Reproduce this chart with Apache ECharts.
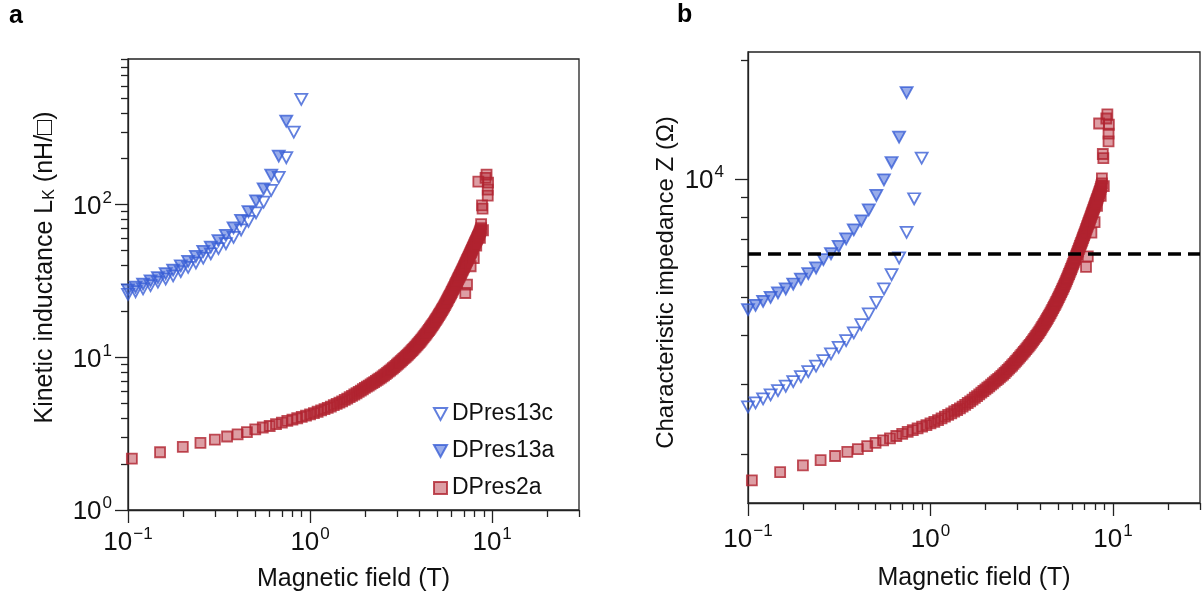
<!DOCTYPE html>
<html><head><meta charset="utf-8">
<script src="https://cdn.jsdelivr.net/npm/echarts@6/dist/echarts.min.js"></script>
<style>html,body{margin:0;padding:0;background:#fff}#c{width:1204px;height:597px}</style>
</head><body><div id="c"></div>
<script>
// ---------------- data ----------------
const field13c = [0.1,0.11,0.121,0.133,0.146,0.161,0.177,0.195,0.214,0.236,0.259,0.285,0.314,0.345,0.380,0.418,0.459,0.505,0.556,0.612,0.673,0.740,0.814,0.895];
const lk13c = [25.9,26.9,28.1,29.5,31.1,32.6,34.2,36.5,38.8,41.5,44.7,47.7,51.5,55.5,61.1,68.3,77.8,88.3,104,124,151,203,299,490];
const z13c = [2634,2696,2760,2825,2897,2971,3053,3144,3237,3340,3452,3589,3730,3880,4060,4261,4535,4853,5248,5705,6292,7307,8898,11286];

const field13a = [0.1,0.11,0.121,0.133,0.146,0.161,0.177,0.195,0.214,0.236,0.259,0.285,0.314,0.345,0.380,0.418,0.459,0.505,0.556,0.612,0.673,0.740];
const lk13a = [27.7,28.8,30.2,31.7,33.3,35.3,37.3,39.8,42.5,45.8,49.4,52.8,58.1,63.0,70.4,79.0,90.1,106,127,156,208,353];
const z13a = [4650,4768,4881,4996,5128,5248,5403,5563,5740,5934,6230,6450,6730,7040,7420,7820,8340,9070,9940,11000,12760,16560];

const field2a = [0.105,0.15,0.2,0.25,0.3,0.35,0.4,0.45,0.5,0.55,0.6,0.65,0.7,0.75,0.8,0.85,0.9,0.95,1.0,
1.05,1.1,1.15,1.2,1.25,1.3,1.35,1.4,1.45,1.5,1.55,1.6,1.65,1.7,1.75,1.8,1.85,1.9,1.95,2.0,
2.05,2.1,2.15,2.2,2.25,2.3,2.35,2.4,2.45,2.5,2.55,2.6,2.65,2.7,2.75,2.8,2.85,2.9,2.95,3.0,
3.05,3.1,3.15,3.2,3.25,3.3,3.35,3.4,3.45,3.5,3.55,3.6,3.65,3.7,3.75,3.8,3.85,3.9,3.95,4.0,
4.05,4.1,4.15,4.2,4.25,4.3,4.35,4.4,4.45,4.5,4.55,4.6,4.65,4.7,4.75,4.8,4.85,4.9,4.95,5.0,
5.05,5.1,5.15,5.2,5.25,5.3,5.35,5.4,5.45,5.5,5.55,5.6,5.65,5.7,5.75,5.8,5.85,5.9,5.95,6.0,
6.05,6.1,6.15,6.2,6.25,6.3,6.35,6.4,6.45,6.5,6.55,6.6,6.65,6.7,6.75,6.8,6.85,6.9,6.95,7.0,
7.05,7.1,7.15,7.2,7.25,7.3,7.35,7.4,7.45,7.5,7.55,7.6,7.65,7.7,7.75,7.8,7.85,7.9,7.95,8.0,
8.05,8.1,8.15,8.2,8.25,8.3,8.35,8.4,8.45,8.5,8.55,8.6,8.65,8.7,
7.12,7.28,7.62,7.93,8.18,8.57,8.91,8.70,8.86,8.80,8.40,9.46,9.46,9.50,9.20,9.32];
const lk2a = [2.17,2.39,2.59,2.75,2.89,3.03,3.13,3.24,3.37,3.47,3.55,3.65,3.74,3.83,3.91,3.99,4.07,4.15,4.23,
4.31,4.40,4.49,4.58,4.67,4.76,4.86,4.95,5.05,5.15,5.26,5.37,5.48,5.59,5.71,5.82,5.94,6.06,6.18,6.30,
6.42,6.53,6.65,6.77,6.89,7.01,7.13,7.25,7.37,7.50,7.63,7.77,7.91,8.05,8.19,8.33,8.48,8.63,8.79,8.95,
9.11,9.27,9.43,9.59,9.76,9.92,10.09,10.26,10.43,10.60,10.79,10.98,11.17,11.37,11.57,11.77,11.97,12.18,12.39,12.60,
12.84,13.08,13.32,13.56,13.81,14.06,14.31,14.57,14.83,15.10,15.39,15.68,15.98,16.28,16.58,16.89,17.21,17.53,17.86,18.20,
18.55,18.91,19.27,19.64,20.01,20.39,20.78,21.18,21.58,22.00,22.45,22.90,23.36,23.83,24.30,24.78,25.27,25.77,26.28,26.80,
27.34,27.88,28.43,28.98,29.54,30.11,30.69,31.28,31.88,32.50,33.11,33.73,34.36,35.00,35.64,36.29,36.95,37.62,38.30,39.00,
39.72,40.45,41.18,41.92,42.66,43.41,44.17,44.94,45.71,46.50,47.31,48.13,48.96,49.79,50.63,51.47,52.32,53.18,54.08,55.00,
55.9,56.8,57.7,58.6,59.5,60.5,61.5,62.5,63.5,64.5,65.8,67.2,68.6,70.2,
26.4,29.9,39.5,44.6,54.0,60.6,68.0,74.5,94.3,99.0,141.5,114.8,125.5,139.5,150.0,157.5];
const z2a = [1712,1796,1870,1927,1975,2023,2056,2092,2133,2165,2189,2220,2247,2274,2298,2321,2344,2367,2390,
2412,2437,2462,2487,2511,2535,2562,2585,2611,2637,2665,2693,2720,2747,2777,2803,2832,2860,2889,2917,
2944,2969,2997,3023,3050,3077,3103,3129,3155,3182,3210,3239,3268,3297,3325,3354,3384,3414,3445,3476,
3507,3538,3568,3598,3630,3660,3691,3722,3753,3783,3817,3850,3884,3918,3953,3986,4020,4055,4090,4125,
4164,4202,4241,4279,4318,4357,4396,4435,4475,4515,4559,4601,4645,4689,4732,4775,4821,4865,4911,4957,
5005,5053,5101,5150,5198,5247,5297,5348,5398,5450,5506,5561,5616,5672,5728,5784,5841,5899,5957,6016,
6076,6136,6196,6255,6316,6376,6437,6499,6561,6624,6686,6749,6811,6874,6937,7000,7063,7127,7191,7257,
7323,7390,7457,7523,7590,7656,7723,7790,7856,7924,7992,8061,8131,8199,8268,8337,8405,8474,8545,8618,
8688,8758,8827,8895,8963,9038,9113,9186,9260,9332,9426,9526,9624,9736,
5970,6353,7300,7760,8540,9050,9580,10030,11290,11560,13820,12450,13020,13720,14230,14580];

const resistanceQuantum = 6453; // dashed line, ohm

// axis ranges and ticks (real values)
const xRange = [0.1, 30];
const yRangeA = [1, 900];
const yRangeB = [1500, 21000];
const xMajorTicks = [0.1, 1, 10];
const xMajorLabels = ['\u22121', '0', '1'];
const xMinorTicks = [0.2,0.3,0.4,0.5,0.6,0.7,0.8,0.9,2,3,4,5,6,7,8,9,20,30];
const yMajorTicksA = [1, 10, 100];
const yMajorLabelsA = ['0', '1', '2'];
const yMinorTicksA = [2,3,4,5,6,7,8,9,20,30,40,50,60,70,80,90,200,300,400,500,600,700,800,900];
const yMajorTicksB = [10000];
const yMajorLabelsB = ['4'];
const yMinorTicksB = [2000,3000,4000,5000,6000,7000,8000,9000,20000];

const seriesNames = ['DPres13c', 'DPres13a', 'DPres2a'];

// ---------------- chart ----------------
const FONT = '"Liberation Sans", Arial, sans-serif';
const L = Math.log10;
const BLUE = '#3a5fd6', RED = '#b0232f';
const AXC = '#222';
const DOWN_TRI = 'path://M0,0L12,0L6,11Z';

function pts(xs, ys) { return xs.map((x, i) => [L(x), L(ys[i])]); }

function labelMap(ticks, labels) {
  const m = {};
  ticks.forEach((t, i) => { m[Math.round(L(t))] = labels[i]; });
  return m;
}
const richLab = {
  b: { fontSize: 26, fontFamily: FONT, color: '#111', lineHeight: 30, verticalAlign: 'bottom' },
  s: { fontSize: 17, fontFamily: FONT, color: '#111', verticalAlign: 'top', padding: [0, 0, 0, 1] }
};

function xAxes(grid, margin, nameGap) {
  const lm = labelMap(xMajorTicks, xMajorLabels);
  const common = { type: 'value', gridIndex: grid, min: L(xRange[0]), max: L(xRange[1]), splitLine: { show: false }, position: 'bottom' };
  return [
    Object.assign({}, common, {
      axisLine: { show: true, onZero: false, lineStyle: { color: AXC, width: 1.3 } },
      axisTick: { show: true, customValues: xMajorTicks.map(L), length: 13, lineStyle: { color: AXC, width: 1.3 } },
      axisLabel: { show: true, customValues: xMajorTicks.map(L), margin: margin, formatter: v => '{b|10}{s|' + lm[Math.round(v)] + '}', rich: richLab },
      name: 'Magnetic field (T)', nameLocation: 'middle', nameGap: nameGap,
      nameTextStyle: { fontSize: 25, fontFamily: FONT, color: '#111' }
    }),
    Object.assign({}, common, {
      axisLine: { show: false, onZero: false },
      axisTick: { show: true, customValues: xMinorTicks.map(L), length: 7, lineStyle: { color: AXC, width: 1.3 } },
      axisLabel: { show: false }
    })
  ];
}
function yAxes(grid, range, majors, labels, minors, name, margin, nameSize, namePad) {
  const lm = labelMap(majors, labels);
  const common = { type: 'value', gridIndex: grid, min: L(range[0]), max: L(range[1]), splitLine: { show: false }, position: 'left' };
  return [
    Object.assign({}, common, {
      axisLine: { show: true, onZero: false, lineStyle: { color: AXC, width: 1.3 } },
      axisTick: { show: true, customValues: majors.map(L), length: 13, lineStyle: { color: AXC, width: 1.3 } },
      axisLabel: { show: true, customValues: majors.map(L), margin: margin, formatter: v => '{b|10}{s|' + lm[Math.round(v)] + '}', rich: richLab },
      name: name, nameLocation: 'middle', nameGap: 70, nameRotate: 90,
      nameTextStyle: { fontSize: nameSize, fontFamily: FONT, color: '#111', padding: namePad,
        rich: { k: { fontSize: 16, fontFamily: FONT, color: '#111', verticalAlign: 'bottom' } } }
    }),
    Object.assign({}, common, {
      axisLine: { show: false, onZero: false },
      axisTick: { show: true, customValues: minors.map(L), length: 7, lineStyle: { color: AXC, width: 1.3 } },
      axisLabel: { show: false }
    })
  ];
}

const styles = {
  DPres13c: { symbol: 'triangle', symbolRotate: 180, symbolSize: [12, 11], itemStyle: { color: 'rgba(255,255,255,0)', borderColor: BLUE, borderWidth: 1.8 } },
  DPres13a: { symbol: 'triangle', symbolRotate: 180, symbolSize: [12, 11], itemStyle: { color: 'rgba(58,95,214,0.65)', borderColor: BLUE, borderWidth: 1.8 } },
  DPres2a: { symbol: 'rect', symbolSize: 10, itemStyle: { color: 'rgba(178,34,48,0.55)', borderColor: RED, borderWidth: 1.8 } }
};
function sc(name, xi, yi, data, extra) {
  return Object.assign({ type: 'scatter', name: name, xAxisIndex: xi, yAxisIndex: yi, data: data, silent: true, clip: false }, styles[name], extra || {});
}

const option = {
  animation: false,
  backgroundColor: '#fff',
  grid: [
    { left: 128, top: 59, width: 451, height: 451, show: true, borderColor: AXC, borderWidth: 1.3, outerBoundsMode: 'none' },
    { left: 748, top: 52, width: 452, height: 451, show: true, borderColor: AXC, borderWidth: 1.3, outerBoundsMode: 'none' }
  ],
  xAxis: [].concat(xAxes(0, 16, 57), xAxes(1, 20, 63)),
  yAxis: [].concat(
    yAxes(0, yRangeA, yMajorTicksA, yMajorLabelsA, yMinorTicksA, 'Kinetic inductance L{k|K} (nH/\u25A1)', 16, 25, [0, 0, 0, 34]),
    yAxes(1, yRangeB, yMajorTicksB, yMajorLabelsB, yMinorTicksB, 'Characteristic impedance Z (\u03A9)', 24, 24, [0, 10, 0, 0])
  ),
  legend: {
    data: [
      { name: 'DPres13c', icon: DOWN_TRI },
      { name: 'DPres13a', icon: DOWN_TRI },
      { name: 'DPres2a' }
    ],
    orient: 'vertical', left: 428, top: 397, itemWidth: 13, itemHeight: 12, itemGap: 13,
    selectedMode: false, textStyle: { fontSize: 23, fontFamily: FONT, color: '#111', lineHeight: 24 }
  },
  graphic: [
    { type: 'text', left: 9, top: 4, style: { text: 'a', font: 'bold 25px "Liberation Sans", Arial', fill: '#000' } },
    { type: 'text', left: 677, top: 3, style: { text: 'b', font: 'bold 25px "Liberation Sans", Arial', fill: '#000' } }
  ],
  series: [
    sc('DPres13c', 0, 0, pts(field13c, lk13c)),
    sc('DPres13a', 0, 0, pts(field13a, lk13a)),
    sc('DPres2a', 0, 0, pts(field2a, lk2a)),
    sc('DPres13c', 2, 2, pts(field13c, z13c)),
    sc('DPres13a', 2, 2, pts(field13a, z13a)),
    sc('DPres2a', 2, 2, pts(field2a, z2a), {
      markLine: { silent: true, symbol: 'none', label: { show: false }, animation: false,
        lineStyle: { color: '#000', width: 3.5, type: [13, 7] }, data: [{ yAxis: L(resistanceQuantum) }] }
    })
  ]
};
const chart = echarts.init(document.getElementById('c'), null, { renderer: 'canvas' });
chart.setOption(option);
</script></body></html>
